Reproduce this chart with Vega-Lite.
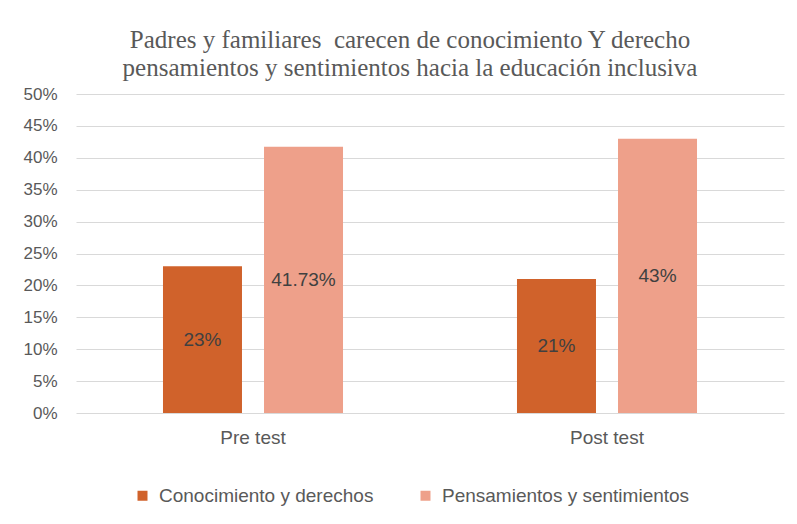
{
  "$schema": "https://vega.github.io/schema/vega-lite/v6.json",
  "width": 708,
  "height": 319,
  "padding": {"left": 22, "top": 28, "right": 12, "bottom": 12},
  "background": "white",
  "title": {
    "text": ["Padres y familiares\u00a0 carecen de conocimiento Y derecho", "pensamientos y sentimientos hacia la educación inclusiva"],
    "font": "Liberation Serif",
    "fontSize": 25,
    "fontWeight": "normal",
    "color": "#595959",
    "anchor": "middle",
    "lineHeight": 28,
    "offset": 4,
    "dx": -20
  },
  "data": {
    "values": [
      {"test": "Pre test", "serie": "Conocimiento y derechos", "valor": 0.23, "etiqueta": "23%"},
      {"test": "Pre test", "serie": "Pensamientos y sentimientos", "valor": 0.4173, "etiqueta": "41.73%"},
      {"test": "Post test", "serie": "Conocimiento y derechos", "valor": 0.21, "etiqueta": "21%"},
      {"test": "Post test", "serie": "Pensamientos y sentimientos", "valor": 0.43, "etiqueta": "43%"}
    ]
  },
  "encoding": {
    "x": {
      "field": "test", "type": "nominal", "sort": ["Pre test", "Post test"],
      "scale": {"paddingInner": 0, "paddingOuter": 0},
      "axis": {"title": null, "labelAngle": 0, "domain": false, "ticks": false, "labelFont": "Liberation Sans", "labelFontSize": 19, "labelColor": "#595959", "labelPadding": 15}
    },
    "xOffset": {
      "field": "serie", "type": "nominal", "sort": ["Conocimiento y derechos", "Pensamientos y sentimientos"],
      "scale": {"paddingInner": 0.218, "paddingOuter": 0.861}
    }
  },
  "layer": [
    {
      "mark": {"type": "bar"},
      "encoding": {
        "y": {
          "field": "valor", "type": "quantitative",
          "scale": {"domain": [0, 0.5]},
          "axis": {"title": null, "format": ".0%", "values": [0, 0.05, 0.1, 0.15, 0.2, 0.25, 0.3, 0.35, 0.4, 0.45, 0.5], "domain": false, "ticks": false, "labelFont": "Liberation Sans", "labelFontSize": 17, "labelColor": "#595959", "labelPadding": 19, "gridColor": "#D9D9D9", "gridWidth": 1}
        },
        "color": {
          "field": "serie", "type": "nominal", "sort": ["Conocimiento y derechos", "Pensamientos y sentimientos"],
          "scale": {"range": ["#D0622B", "#EEA08A"]},
          "legend": {"title": null, "orient": "none", "legendX": 57, "legendY": 392, "direction": "horizontal", "symbolType": "square", "symbolSize": 100, "labelFont": "Liberation Sans", "labelFontSize": 19, "labelColor": "#595959", "labelLimit": 400, "columnPadding": 42, "symbolStrokeWidth": 0, "labelOffset": 7}
        }
      }
    },
    {
      "mark": {"type": "text", "font": "Liberation Sans", "fontSize": 19, "color": "#404040", "baseline": "middle"},
      "encoding": {
        "y": {"field": "valor", "type": "quantitative", "scale": {"domain": [0, 1]}, "axis": null},
        "text": {"field": "etiqueta"}
      }
    }
  ],
  "resolve": {"scale": {"y": "independent"}},
  "config": {"view": {"stroke": null}}
}
